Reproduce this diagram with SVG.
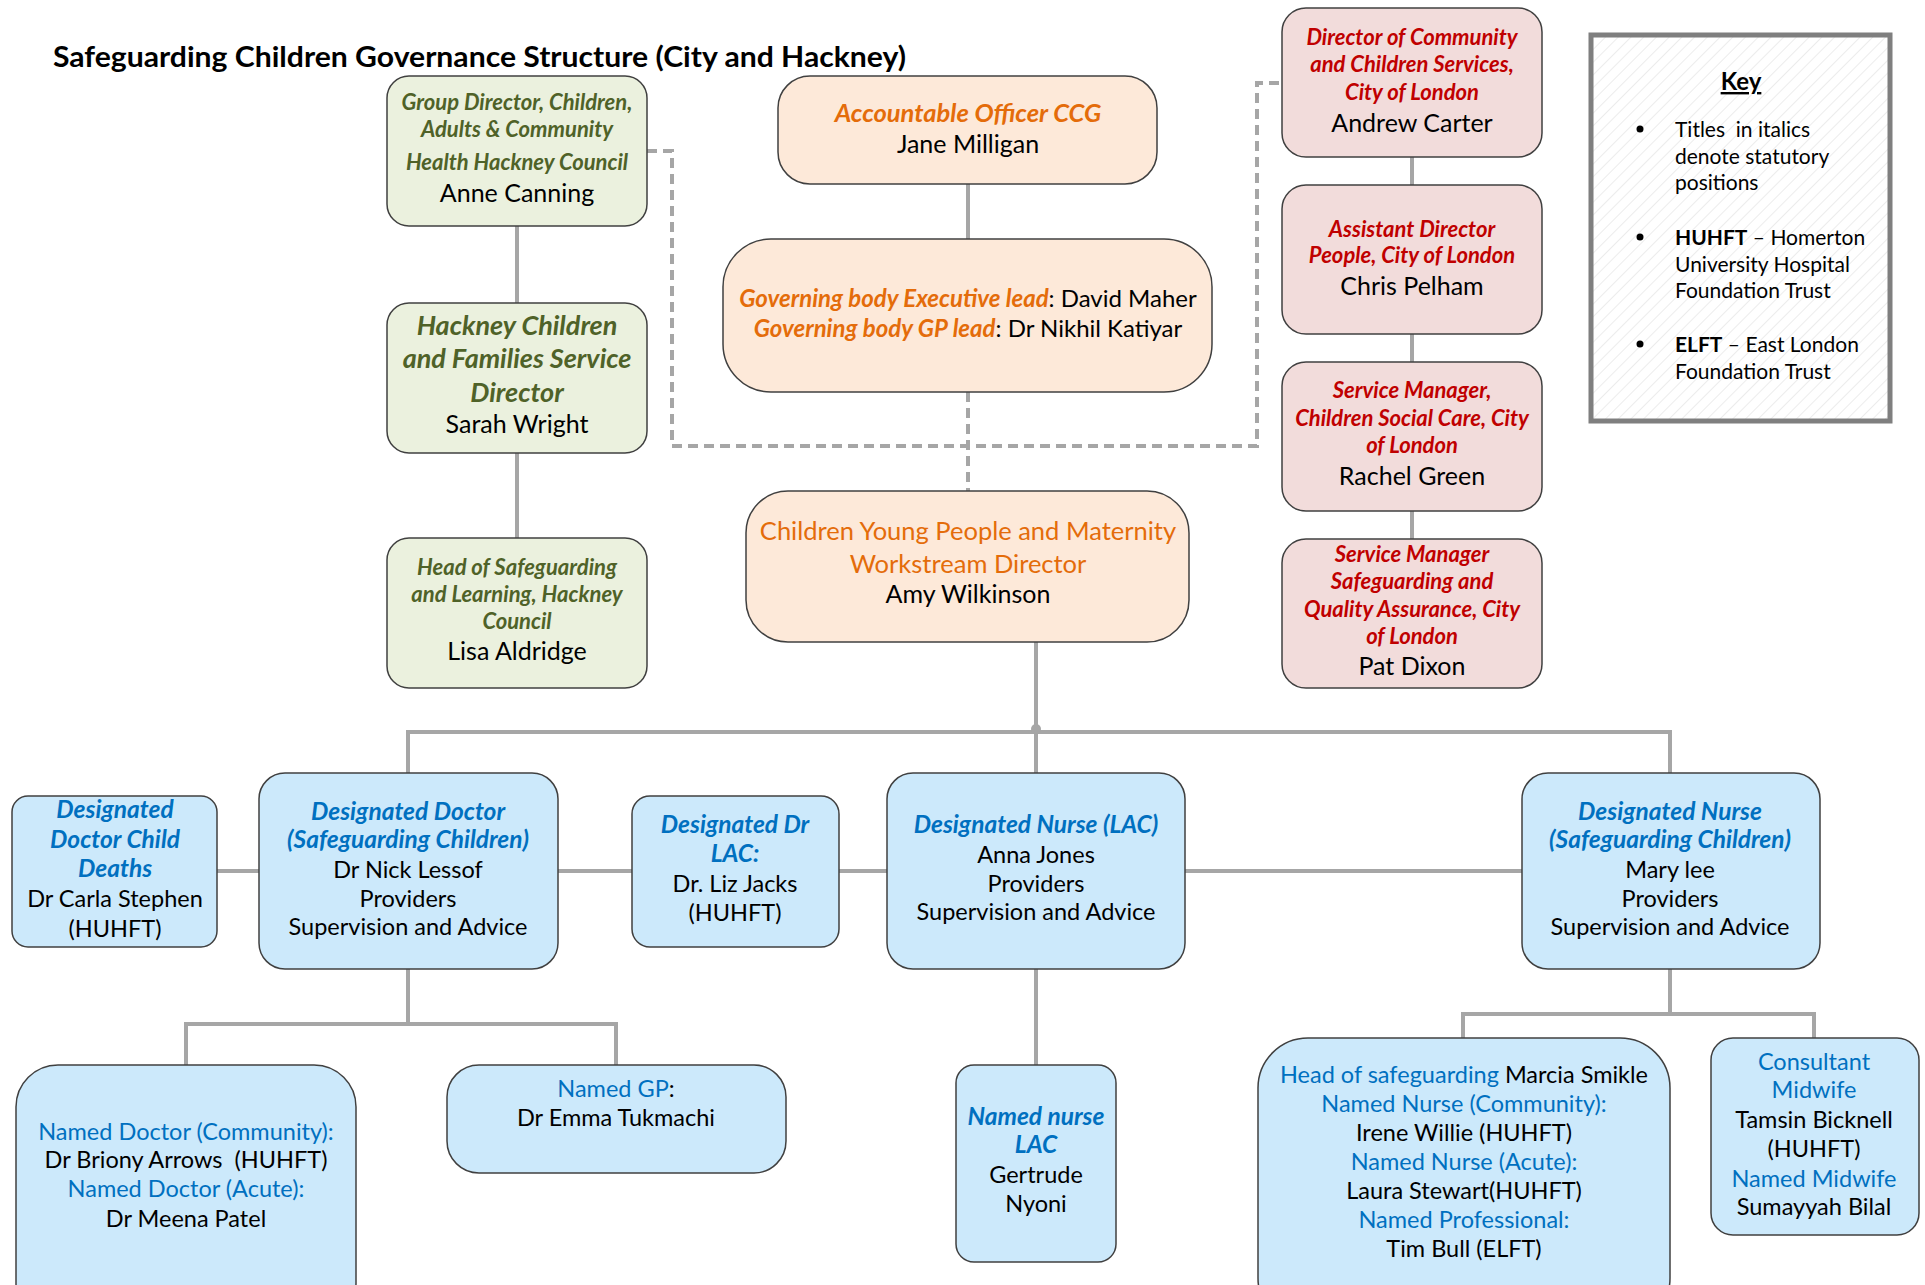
<svg xmlns="http://www.w3.org/2000/svg" width="1925" height="1285" viewBox="0 0 1925 1285">
<style>
text { font-family: Lato, "Open Sans", "Liberation Sans", sans-serif; text-anchor: middle; fill: #000; }
.bi { font-weight: bold; font-style: italic; }
.g { fill: #4f6228; } .o { fill: #e46c0a; } .r { fill: #c00000; } .b { fill: #0070c0; }
.box { stroke: #404040; stroke-width: 1.5; }
.gb { fill: #ebf1de; } .ob { fill: #fde9d9; } .rb { fill: #f2dcdb; } .bb { fill: #cce9fb; }
.conn { stroke: #a6a6a6; stroke-width: 4; fill: none; }
.dash { stroke: #a6a6a6; stroke-width: 4; fill: none; stroke-dasharray: 10 6; }
.nm { font-size: 25px; }
.tt { font-size: 22px; }
.bt { font-size: 24.5px; }
.bd { font-size: 23.5px; }
.key { font-size: 21px; text-anchor: start; }
</style>
<defs>
<pattern id="hatch" patternUnits="userSpaceOnUse" width="9" height="9" patternTransform="rotate(45)">
<line x1="0" y1="0" x2="0" y2="9" stroke="#e6e6e6" stroke-width="1.5"/>
</pattern>
</defs>
<rect width="1925" height="1285" fill="#fff"/>
<text x="53" y="67" textLength="853" lengthAdjust="spacingAndGlyphs" style="font-size:29px;font-weight:bold;text-anchor:start">Safeguarding Children Governance Structure (City and Hackney)</text>

<g id="connectors">
<path class="conn" d="M517,226 V303 M517,453 V538"/>
<path class="conn" d="M968,184 V239"/>
<path class="dash" d="M647,151 H672 V446 H1257 V83 H1282"/>
<path class="dash" d="M968,392 V491"/>
<path class="conn" d="M1412,157 V185 M1412,334 V362 M1412,511 V539"/>
<path class="conn" d="M1036,642 V773"/>
<path class="conn" d="M408,773 V732 H1670 V773"/>
<path class="conn" d="M408,732 H968" stroke-width="5.5"/>
<circle cx="1036" cy="729" r="5" fill="#a6a6a6"/>
<path class="conn" d="M217,871 H1522"/>
<path class="conn" d="M408,969 V1024 M186,1065 V1024 H616 V1065"/>
<path class="conn" d="M1036,969 V1065"/>
<path class="conn" d="M1670,969 V1014 M1463,1038 V1014 H1814 V1038"/>
</g>

<g id="n-group-director">
<rect class="box gb" x="387" y="76" width="260" height="150" rx="22"/>
<text class="bi g tt" x="517" y="110">Group Director, Children,</text>
<text class="bi g tt" x="517" y="137">Adults &amp; Community</text>
<text class="bi g tt" x="517" y="170">Health Hackney Council</text>
<text class="nm" x="517" y="202">Anne Canning</text>
</g>
<g id="n-hackney-director">
<rect class="box gb" x="387" y="303" width="260" height="150" rx="22"/>
<text class="bi g" style="font-size:27px" x="517" y="335">Hackney Children</text>
<text class="bi g" style="font-size:27px" x="517" y="368">and Families Service</text>
<text class="bi g" style="font-size:27px" x="517" y="402">Director</text>
<text class="nm" x="517" y="433">Sarah Wright</text>
</g>
<g id="n-head-safeguarding-hackney">
<rect class="box gb" x="387" y="538" width="260" height="150" rx="22"/>
<text class="bi g tt" x="517" y="575">Head of Safeguarding</text>
<text class="bi g tt" x="517" y="602">and Learning, Hackney</text>
<text class="bi g tt" x="517" y="629">Council</text>
<text class="nm" x="517" y="660">Lisa Aldridge</text>
</g>

<g id="n-accountable">
<rect class="box ob" x="778" y="76" width="379" height="108" rx="32"/>
<text class="bi o" style="font-size:25.5px" x="968" y="122">Accountable Officer CCG</text>
<text class="nm" x="968" y="153">Jane Milligan</text>
</g>
<g id="n-governing">
<rect class="box ob" x="723" y="239" width="489" height="153" rx="48"/>
<text style="font-size:24px" x="968" y="307"><tspan class="bi o">Governing body Executive lead</tspan>: David Maher</text>
<text style="font-size:24px" x="968" y="337"><tspan class="bi o">Governing body GP lead</tspan>: Dr Nikhil Katiyar</text>
</g>
<g id="n-cyp">
<rect class="box ob" x="746" y="491" width="443" height="151" rx="42"/>
<text class="o" style="font-size:25.5px" x="968" y="540">Children Young People and Maternity</text>
<text class="o" style="font-size:25.5px" x="968" y="573">Workstream Director</text>
<text class="nm" x="968" y="603">Amy Wilkinson</text>
</g>

<g id="n-director-community">
<rect class="box rb" x="1282" y="8" width="260" height="149" rx="24"/>
<text class="bi r tt" x="1412" y="45">Director of Community</text>
<text class="bi r tt" x="1412" y="72">and Children Services,</text>
<text class="bi r tt" x="1412" y="100">City of London</text>
<text class="nm" x="1412" y="132">Andrew Carter</text>
</g>
<g id="n-assistant-director">
<rect class="box rb" x="1282" y="185" width="260" height="149" rx="24"/>
<text class="bi r tt" x="1412" y="237">Assistant Director</text>
<text class="bi r tt" x="1412" y="263">People, City of London</text>
<text class="nm" x="1412" y="295">Chris Pelham</text>
</g>
<g id="n-service-manager-csc">
<rect class="box rb" x="1282" y="362" width="260" height="149" rx="24"/>
<text class="bi r tt" x="1412" y="398">Service Manager,</text>
<text class="bi r tt" x="1412" y="426">Children Social Care, City</text>
<text class="bi r tt" x="1412" y="453">of London</text>
<text class="nm" x="1412" y="485">Rachel Green</text>
</g>
<g id="n-service-manager-sqa">
<rect class="box rb" x="1282" y="539" width="260" height="149" rx="24"/>
<text class="bi r tt" x="1412" y="562">Service Manager</text>
<text class="bi r tt" x="1412" y="589">Safeguarding and</text>
<text class="bi r tt" x="1412" y="617">Quality Assurance, City</text>
<text class="bi r tt" x="1412" y="644">of London</text>
<text class="nm" x="1412" y="675">Pat Dixon</text>
</g>

<g id="key">
<rect x="1591" y="35" width="299" height="386" fill="#fff"/>
<rect x="1591" y="35" width="299" height="386" fill="url(#hatch)" stroke="#7f7f7f" stroke-width="5"/>
<text x="1741" y="90" style="font-size:24px;font-weight:bold;text-decoration:underline">Key</text>
<circle cx="1640" cy="129" r="3.5" fill="#000"/>
<text class="key" x="1675" y="137">Titles&#160; in italics</text>
<text class="key" x="1675" y="164">denote statutory</text>
<text class="key" x="1675" y="190">positions</text>
<circle cx="1640" cy="237" r="3.5" fill="#000"/>
<text class="key" x="1675" y="245"><tspan font-weight="bold">HUHFT</tspan> – Homerton</text>
<text class="key" x="1675" y="272">University Hospital</text>
<text class="key" x="1675" y="298">Foundation Trust</text>
<circle cx="1640" cy="344" r="3.5" fill="#000"/>
<text class="key" x="1675" y="352"><tspan font-weight="bold">ELFT</tspan> – East London</text>
<text class="key" x="1675" y="379">Foundation Trust</text>
</g>

<g id="n-dd-child-deaths">
<rect class="box bb" x="12" y="796" width="205" height="151" rx="16"/>
<text class="bi b bt" x="115" y="818">Designated</text>
<text class="bi b bt" x="115" y="848">Doctor Child</text>
<text class="bi b bt" x="115" y="877">Deaths</text>
<text class="bd" x="115" y="907">Dr Carla Stephen</text>
<text class="bd" x="115" y="937">(HUHFT)</text>
</g>
<g id="n-dd-safeguarding">
<rect class="box bb" x="259" y="773" width="299" height="196" rx="26"/>
<text class="bi b bt" x="408" y="820">Designated Doctor</text>
<text class="bi b bt" x="408" y="848">(Safeguarding Children)</text>
<text class="bd" x="408" y="878">Dr Nick Lessof</text>
<text class="bd" x="408" y="907">Providers</text>
<text class="bd" x="408" y="935">Supervision and Advice</text>
</g>
<g id="n-dd-lac">
<rect class="box bb" x="632" y="796" width="207" height="151" rx="18"/>
<text class="bi b bt" x="735" y="833">Designated Dr</text>
<text class="bi b bt" x="735" y="862">LAC:</text>
<text class="bd" x="735" y="892">Dr. Liz Jacks</text>
<text class="bd" x="735" y="921">(HUHFT)</text>
</g>
<g id="n-dn-lac">
<rect class="box bb" x="887" y="773" width="298" height="196" rx="26"/>
<text class="bi b bt" x="1036" y="833">Designated Nurse (LAC)</text>
<text class="bd" x="1036" y="863">Anna Jones</text>
<text class="bd" x="1036" y="892">Providers</text>
<text class="bd" x="1036" y="920">Supervision and Advice</text>
</g>
<g id="n-dn-safeguarding">
<rect class="box bb" x="1522" y="773" width="298" height="196" rx="26"/>
<text class="bi b bt" x="1670" y="820">Designated Nurse</text>
<text class="bi b bt" x="1670" y="848">(Safeguarding Children)</text>
<text class="bd" x="1670" y="878">Mary lee</text>
<text class="bd" x="1670" y="907">Providers</text>
<text class="bd" x="1670" y="935">Supervision and Advice</text>
</g>

<g id="n-named-doctors">
<rect class="box bb" x="16" y="1065" width="340" height="260" rx="42"/>
<text class="b bd" x="186" y="1140">Named Doctor (Community):</text>
<text class="bd" x="186" y="1168">Dr Briony Arrows&#160; (HUHFT)</text>
<text class="b bd" x="186" y="1197">Named Doctor (Acute):</text>
<text class="bd" x="186" y="1227">Dr Meena Patel</text>
</g>
<g id="n-named-gp">
<rect class="box bb" x="447" y="1065" width="339" height="108" rx="32"/>
<text class="bd" x="616" y="1097"><tspan class="b">Named GP</tspan>:</text>
<text class="bd" x="616" y="1126">Dr Emma Tukmachi</text>
</g>
<g id="n-named-nurse-lac">
<rect class="box bb" x="956" y="1065" width="160" height="197" rx="18"/>
<text class="bi b bt" x="1036" y="1125">Named nurse</text>
<text class="bi b bt" x="1036" y="1153">LAC</text>
<text class="bd" x="1036" y="1183">Gertrude</text>
<text class="bd" x="1036" y="1212">Nyoni</text>
</g>
<g id="n-head-safeguarding-nurses">
<rect class="box bb" x="1258" y="1038" width="412" height="290" rx="50"/>
<text class="bd" x="1464" y="1083"><tspan class="b">Head of safeguarding</tspan> Marcia Smikle</text>
<text class="b bd" x="1464" y="1112">Named Nurse (Community):</text>
<text class="bd" x="1464" y="1141">Irene Willie (HUHFT)</text>
<text class="b bd" x="1464" y="1170">Named Nurse (Acute):</text>
<text class="bd" x="1464" y="1199">Laura Stewart(HUHFT)</text>
<text class="b bd" x="1464" y="1228">Named Professional:</text>
<text class="bd" x="1464" y="1257">Tim Bull (ELFT)</text>
</g>
<g id="n-midwife">
<rect class="box bb" x="1711" y="1038" width="208" height="197" rx="22"/>
<text class="b bd" x="1814" y="1070">Consultant</text>
<text class="b bd" x="1814" y="1098">Midwife</text>
<text class="bd" x="1814" y="1128">Tamsin Bicknell</text>
<text class="bd" x="1814" y="1157">(HUHFT)</text>
<text class="b bd" x="1814" y="1187">Named Midwife</text>
<text class="bd" x="1814" y="1215">Sumayyah Bilal</text>
</g>
</svg>
